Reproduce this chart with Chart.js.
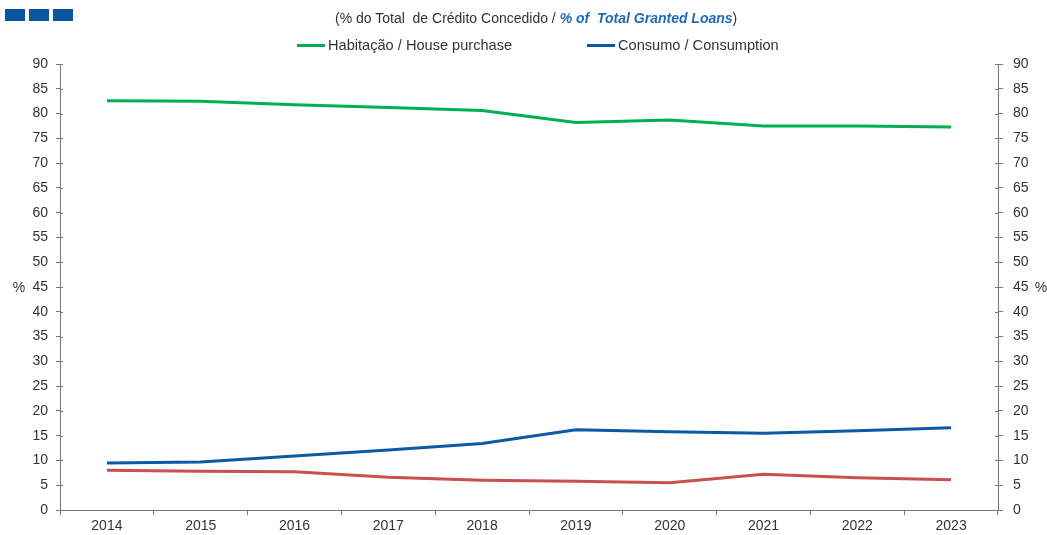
<!DOCTYPE html>
<html>
<head>
  <meta charset="UTF-8" />
  <title>Crédito Concedido</title>
  <script src="https://cdn.jsdelivr.net/npm/chart.js"></script>
  <style>
    body { margin: 0; background: #fff; overflow: hidden; font-family: "Liberation Sans", Arial, sans-serif; color: #333; }
    #wrap { position: relative; width: 1047px; height: 535px; }
    #chart { position: absolute; left: 0; top: 0; }
    .logo { position: absolute; top: 9px; width: 20px; height: 12px; background: #0a55a0; }
    #title { position: absolute; left: 335px; top: 10px; font-size: 14px; white-space: pre; }
    #title b { color: #1f6bb5; font-style: italic; }
    .leg { position: absolute; top: 37px; font-size: 14.6px; white-space: nowrap; }
    .leg span { display: inline-block; width: 28px; height: 3px; vertical-align: middle; margin-right: 3px; position: relative; top: -1px; }
  </style>
</head>
<body>
<div id="wrap">
  <canvas id="chart" width="1047" height="535"></canvas>
  <div class="logo" style="left:5px"></div>
  <div class="logo" style="left:29px"></div>
  <div class="logo" style="left:53px"></div>
  <div id="title">(% do Total  de Crédito Concedido / <b>% of  Total Granted Loans</b>)</div>
  <div id="legend"></div>
</div>

<script>
  const years = ['2014', '2015', '2016', '2017', '2018', '2019', '2020', '2021', '2022', '2023'];
  const habitacao = [82.6, 82.5, 81.8, 81.2, 80.6, 78.2, 78.7, 77.5, 77.5, 77.3];
  const consumo = [9.5, 9.7, 10.9, 12.1, 13.4, 16.2, 15.8, 15.5, 16.0, 16.6];
  const outros = [8.0, 7.8, 7.7, 6.6, 6.0, 5.8, 5.5, 7.2, 6.5, 6.1];

  const seriesNames = ['Habitação / House purchase', 'Consumo / Consumption', 'Outros / Other'];
  const seriesColors = ['#00b050', '#0b5aa6', '#c9504d'];
  const legendLeft = [297, 587];

  const axisColor = '#777';
  const textColor = '#333';
  const fontFamily = '"Liberation Sans", Arial, sans-serif';

  // legenda (só as duas primeiras séries aparecem no original)
  const legendEl = document.getElementById('legend');
  for (let i = 0; i < 2; i++) {
    const item = document.createElement('div');
    item.className = 'leg';
    item.style.left = legendLeft[i] + 'px';
    item.innerHTML = '<span style="background:' + seriesColors[i] + '"></span>' + seriesNames[i];
    legendEl.appendChild(item);
  }

  // marcas dos eixos y cruzam a linha do eixo
  const innerTicks = {
    id: 'innerTicks',
    afterDraw(chart) {
      const ctx = chart.ctx;
      const left = chart.scales.y;
      const right = chart.scales.y2;
      ctx.save();
      ctx.strokeStyle = axisColor;
      ctx.lineWidth = 1;
      ctx.beginPath();
      left.ticks.forEach(t => {
        const py = Math.round(left.getPixelForValue(t.value)) + 0.5;
        ctx.moveTo(left.right, py);
        ctx.lineTo(left.right + 3, py);
      });
      right.ticks.forEach(t => {
        const py = Math.round(right.getPixelForValue(t.value)) + 0.5;
        ctx.moveTo(right.left, py);
        ctx.lineTo(right.left - 3, py);
      });
      ctx.stroke();

      const midY = (chart.chartArea.top + chart.chartArea.bottom) / 2 + 1;
      ctx.fillStyle = textColor;
      ctx.font = '14px ' + fontFamily;
      ctx.textAlign = 'center';
      ctx.textBaseline = 'middle';
      ctx.fillText('%', 19, midY);
      ctx.fillText('%', 1041, midY);
      ctx.restore();
    }
  };

  const yTicks = (pad) => ({
    stepSize: 5,
    color: textColor,
    padding: pad,
    font: { size: 14, family: fontFamily }
  });

  const chartConfig = {
    type: 'line',
    data: {
      labels: years,
      datasets: [habitacao, consumo, outros].map((values, i) => ({
        label: seriesNames[i],
        data: values,
        borderColor: seriesColors[i],
        backgroundColor: seriesColors[i],
        borderWidth: 3,
        pointRadius: 0,
        tension: 0,
        fill: false,
        yAxisID: 'y'
      }))
    },
    options: {
      responsive: false,
      animation: false,
      layout: { padding: { top: 64, left: 0, right: 0, bottom: 0 } },
      plugins: {
        legend: { display: false },
        title: { display: false },
        tooltip: { enabled: false }
      },
      scales: {
        x: {
          offset: true,
          grid: { offset: true, drawOnChartArea: false, color: axisColor, tickLength: 5 },
          border: { color: axisColor },
          ticks: {
            color: textColor,
            padding: 3,
            maxRotation: 0,
            font: { size: 14, family: fontFamily }
          },
          afterFit: s => { s.height = 25; }
        },
        y: {
          position: 'left',
          min: 0,
          max: 90,
          grid: { drawOnChartArea: false, color: axisColor, tickLength: 4 },
          border: { color: axisColor },
          ticks: yTicks(8),
          afterFit: s => { s.width = 60; }
        },
        y2: {
          position: 'right',
          min: 0,
          max: 90,
          grid: { drawOnChartArea: false, color: axisColor, tickLength: 5 },
          border: { color: axisColor },
          ticks: yTicks(10),
          afterFit: s => { s.width = 49; }
        }
      }
    },
    plugins: [innerTicks]
  };

  const chart = new Chart(document.getElementById('chart'), chartConfig);
</script>
</body>
</html>
